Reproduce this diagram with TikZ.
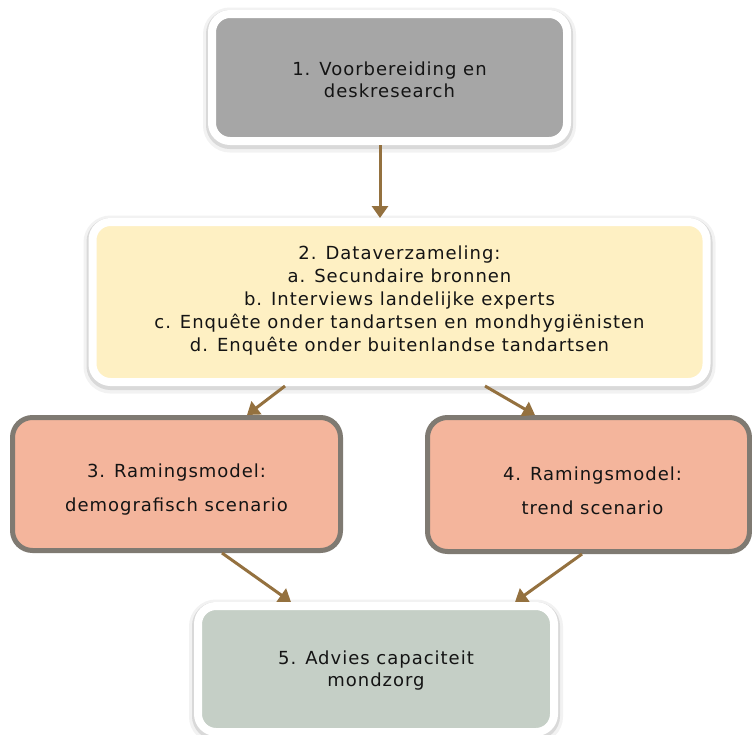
\documentclass[tikz,border=0pt]{standalone}
\usepackage{fontspec}
\setmainfont{DejaVu Sans}[LetterSpace=5.5]
\usetikzlibrary{arrows.meta,calc}
\definecolor{cgrey}{HTML}{A6A6A6}
\definecolor{cyellow}{HTML}{FEF0C3}
\definecolor{csalmon}{HTML}{F4B59C}
\definecolor{cborder}{HTML}{7F7A72}
\definecolor{cgreen}{HTML}{C5CFC6}
\definecolor{carrow}{HTML}{94713F}
\definecolor{ctext}{HTML}{141414}
\newcommand{\fsz}[1]{\fontsize{18}{#1}\selectfont}
\begin{document}
\begin{tikzpicture}[x=1pt,y=-1pt,
  wbox/.style={rounded corners=18pt, draw=white, line width=8pt,
    preaction={draw=black, draw opacity=0.05, line width=18pt, transform canvas={yshift=-2.5pt}},
    preaction={draw=black, draw opacity=0.10, line width=12pt, transform canvas={yshift=-2pt}}},
  gbox/.style={rounded corners=20pt, draw=cborder, line width=5pt, fill=csalmon},
  txt/.style={inner sep=0pt, align=center, text=ctext},
  arr/.style={draw=carrow, line width=3pt, -{Triangle[width=16pt,length=12pt]}}]
\useasboundingbox (0,0) rectangle (752,734);
\fill[white] (0,0) rectangle (752,734);
% boxes
\node[wbox, fill=cgrey, minimum width=355pt, minimum height=127pt] (b1) at (389.5,77.5) {};
\node[wbox, fill=cyellow, minimum width=614pt, minimum height=160pt] (b2) at (399.5,302) {};
\node[gbox, minimum width=328pt, minimum height=133pt] (b3) at (176.5,484) {};
\node[gbox, minimum width=322pt, minimum height=134pt] (b4) at (588.5,484.5) {};
\node[wbox, fill=cgreen, minimum width=356pt, minimum height=126pt] (b5) at (376,669) {};
% texts
\node[txt, font=\fsz{22}] (t1) at ([yshift=-2pt]b1.center) {1. Voorbereiding en\\deskresearch};
\node[txt, font=\fsz{23}] (t2) at ([yshift=1pt]b2.center) {2. Dataverzameling:\\a. Secundaire bronnen\\b. Interviews landelijke experts\\c. Enquête onder tandartsen en mondhygiënisten\\d. Enquête onder buitenlandse tandartsen};
\node[txt, font=\fsz{34}] (t3) at ([yshift=-6pt]b3.center) {3. Ramingsmodel:\\demografisch scenario};
\node[txt, font=\fsz{34}] (t4) at ([xshift=4pt,yshift=-6pt]b4.center) {4. Ramingsmodel:\\trend scenario};
\node[txt, font=\fsz{22}] (t5) at ([yshift=-2pt]b5.center) {5. Advies capaciteit\\mondzorg};
% arrows
\draw[arr] ([xshift=-9.5pt]b1.south) -- ([xshift=-19.5pt]b2.north);
\draw[arr] ([xshift=-114.5pt]b2.south) -- ([xshift=70.5pt]b3.north);
\draw[arr] ([xshift=85.5pt]b2.south) -- ([xshift=-53.5pt]b4.north);
\draw[arr] ([xshift=45.5pt]b3.south) -- ([xshift=-85pt]b5.north);
\draw[arr] ([xshift=-6.5pt]b4.south) -- ([xshift=139pt]b5.north);
\end{tikzpicture}
\end{document}
